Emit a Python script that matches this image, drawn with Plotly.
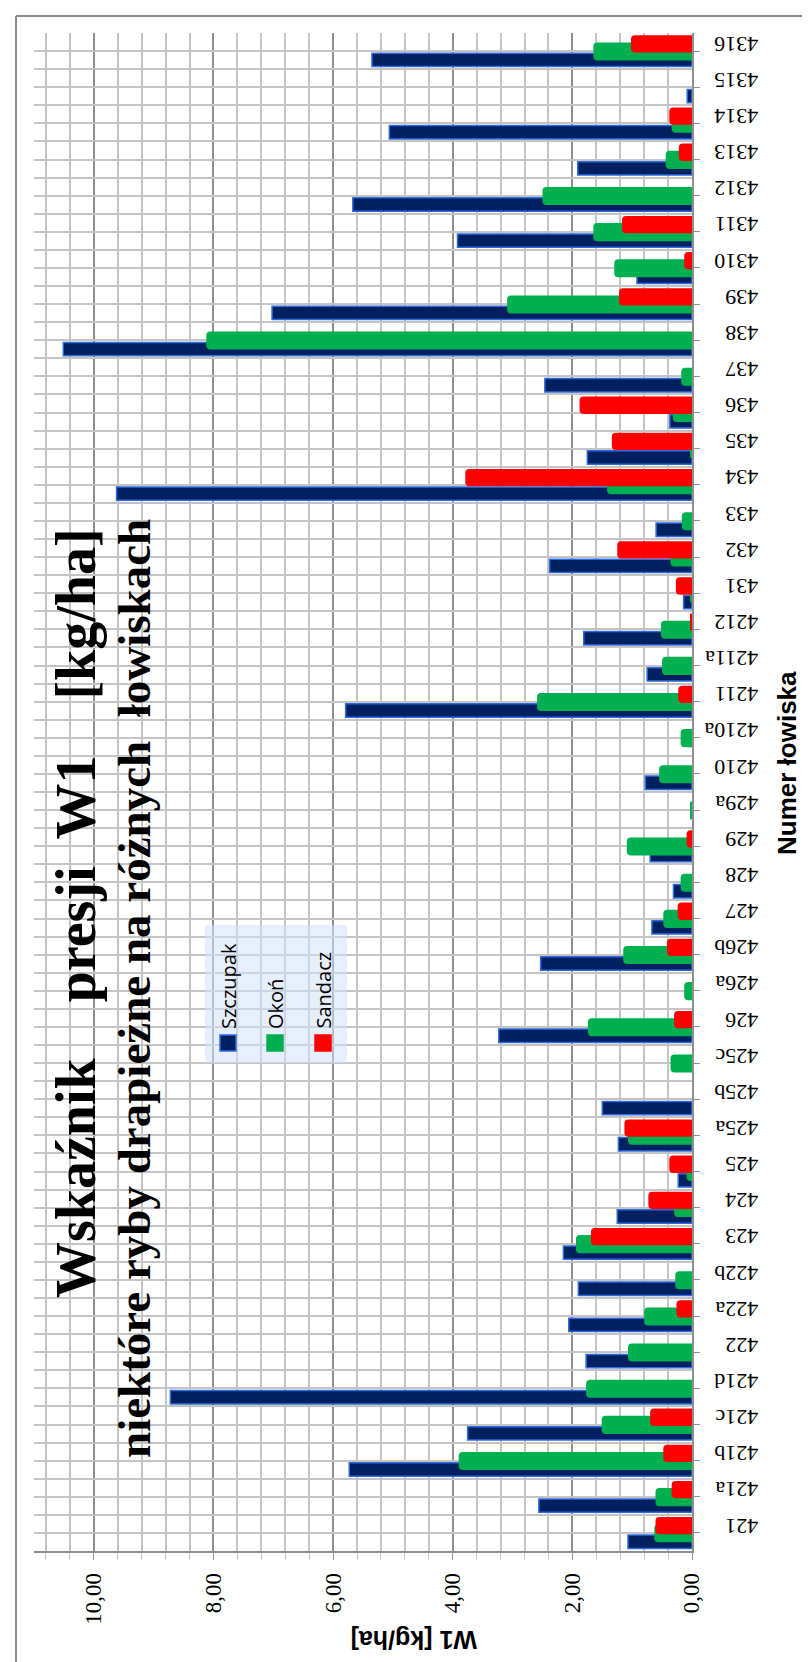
import plotly.graph_objects as go

categories = ["421", "421a", "421b", "421c", "421d", "422", "422a", "422b", "423", "424",
              "425", "425a", "425b", "425c", "426", "426a", "426b", "427", "428", "429",
              "429a", "4210", "4210a", "4211", "4211a", "4212", "431", "432", "433", "434",
              "435", "436", "437", "438", "439", "4310", "4311", "4312", "4313", "4314",
              "4315", "4316"]

szczupak = [1.07, 2.56, 5.73, 3.75, 8.72, 1.77, 2.06, 1.90, 2.15, 1.25,
            0.23, 1.23, 1.50, None, 3.23, None, 2.53, 0.67, 0.31, 0.70,
            None, 0.78, None, 5.79, 0.75, 1.81, 0.14, 2.38, 0.60, 9.62,
            1.75, 0.37, 2.46, 10.51, 7.02, 0.92, 3.92, 5.67, 1.91, 5.06,
            0.08, 5.35]

okon = [0.63, 0.61, 3.90, 1.51, 1.77, 1.07, 0.80, 0.28, 1.94, 0.30,
        0.09, 1.07, None, 0.36, 1.74, 0.13, 1.15, 0.48, 0.19, 1.09,
        0.03, 0.55, 0.19, 2.59, 0.50, 0.52, 0.03, 0.36, 0.17, 1.42,
        0.03, 0.32, 0.18, 8.12, 3.09, 1.30, 1.65, 2.50, 0.44, 0.34,
        None, 1.65]

sandacz = [0.61, 0.34, 0.48, 0.70, None, None, 0.26, None, 1.69, 0.73,
           0.38, 1.13, None, None, 0.30, None, 0.42, 0.24, None, 0.09,
           None, None, None, 0.23, None, 0.03, 0.27, 1.25, None, 3.79,
           1.34, 1.88, None, None, 1.22, 0.13, 1.17, None, 0.22, 0.38,
           None, 1.02]

series_names = ["Szczupak", "Okoń", "Sandacz"]
NB = "\u00a0"
title_line1 = "Wskaźnik" + NB * 3 + " presji" + NB + " W1" + NB * 3 + " [kg/ha]"
title_line2 = "niektóre ryby drapieżne na różnych" + NB + " łowiskach"

NAVY = "#00205F"
NAVY_EDGE = "#2F6BE0"
GREEN = "#00B050"
RED = "#FF0000"
GRID = "#C4C4C4"
GRID_MAJOR = "#8E8E8E"

W_PX, H_PX = 810, 1662
L, T, PW, PH = 26, 25, 658, 1518


def px(xp):
    return (xp - L) / PW


def py(yp):
    return (T + PH - yp) / PH


fig = go.Figure()

fig.add_trace(go.Bar(
    y=categories, x=szczupak, orientation="h", name=series_names[0],
    offset=-0.43, width=0.37,
    marker=dict(color=NAVY, line=dict(color=NAVY_EDGE, width=1.5)),
    showlegend=False))
fig.add_trace(go.Bar(
    y=categories, x=okon, orientation="h", name=series_names[1],
    offset=-0.26, width=0.50,
    marker=dict(color=GREEN, line=dict(width=0), cornerradius=4),
    showlegend=False))
fig.add_trace(go.Bar(
    y=categories, x=sandacz, orientation="h", name=series_names[2],
    offset=-0.04, width=0.48,
    marker=dict(color=RED, line=dict(width=0), cornerradius=4),
    showlegend=False))

# helper trace for boundary gridlines on the overlaid category axis
fig.add_trace(go.Scatter(y=categories, x=[None] * len(categories), yaxis="y2",
                         mode="markers", showlegend=False, hoverinfo="skip"))

fig.update_layout(
    width=W_PX, height=H_PX, autosize=False,
    margin=dict(l=L, r=W_PX - L - PW, t=T, b=H_PX - T - PH, pad=0),
    paper_bgcolor="white", plot_bgcolor="white",
    barmode="overlay",
    separators=", ",
    showlegend=False,
    xaxis=dict(
        range=[11, 0], tick0=0, dtick=2, tickformat=".2f",
        tickangle=-90, ticks="outside", ticklen=7, tickcolor=GRID_MAJOR,
        tickfont=dict(family="Liberation Serif", size=23, color="black"),
        ticklabelstandoff=4,
        showgrid=True, gridcolor=GRID_MAJOR, gridwidth=1.5,
        minor=dict(dtick=0.4, tick0=0, showgrid=True, gridcolor=GRID, gridwidth=1.5,
                   ticks="outside", ticklen=7, tickcolor=GRID),
        showline=True, linecolor=GRID_MAJOR, linewidth=1.5,
        zeroline=False, fixedrange=True),
    yaxis=dict(
        type="category", categoryorder="array", categoryarray=categories,
        range=[-0.5, len(categories) - 0.5],
        side="right", tickangle=180,
        tickfont=dict(family="Liberation Serif", size=22, color="black"),
        ticks="outside", ticklen=6, tickcolor=GRID_MAJOR,
        ticklabelstandoff=54,
        showgrid=True, gridcolor=GRID, gridwidth=1.5,
        showline=True, linecolor=GRID_MAJOR, linewidth=1.5),
    yaxis2=dict(
        type="category", categoryorder="array", categoryarray=categories,
        range=[-0.5, len(categories) - 0.5],
        overlaying="y", side="right", tickson="boundaries",
        showticklabels=False, ticks="",
        showgrid=True, gridcolor=GRID, gridwidth=1.5, showline=False),
)

shapes = []
# outer chart frame (top and left)
shapes.append(dict(type="line", xref="paper", yref="paper",
                   x0=px(8), x1=px(812), y0=py(8), y1=py(8),
                   line=dict(color="#8A8A8A", width=2)))
shapes.append(dict(type="line", xref="paper", yref="paper",
                   x0=px(8), x1=px(8), y0=py(8), y1=py(1664),
                   line=dict(color="#8A8A8A", width=2)))
# legend box
shapes.append(dict(type="rect", xref="paper", yref="paper",
                   x0=px(197), x1=px(339), y0=py(1055), y1=py(917),
                   fillcolor="rgba(214,226,250,0.55)", line=dict(width=0), layer="above"))
legend_cols = [220, 267, 315]
legend_fill = [NAVY, GREEN, RED]
legend_edge = [NAVY_EDGE, GREEN, RED]
for cx, fc, ec in zip(legend_cols, legend_fill, legend_edge):
    shapes.append(dict(type="rect", xref="paper", yref="paper",
                       x0=px(cx - 8), x1=px(cx + 8), y0=py(1043), y1=py(1027),
                       fillcolor=fc, line=dict(color=ec, width=1.5), layer="above"))
fig.update_layout(shapes=shapes)

annotations = []
for cx, name in zip(legend_cols, series_names):
    annotations.append(dict(text=name, xref="paper", yref="paper",
                            x=px(cx), y=py(1023), xanchor="center", yanchor="bottom",
                            textangle=-90, showarrow=False,
                            font=dict(family="Open Sans", size=20, color="black")))
annotations.append(dict(text="<b>" + title_line1 + "</b>", xref="paper", yref="paper",
                        x=px(68), y=py(905), xanchor="center", yanchor="middle",
                        textangle=-90, showarrow=False,
                        font=dict(family="Liberation Serif", size=56, color="black")))
annotations.append(dict(text="<b>" + title_line2 + "</b>", xref="paper", yref="paper",
                        x=px(126), y=py(981), xanchor="center", yanchor="middle",
                        textangle=-90, showarrow=False,
                        font=dict(family="Liberation Serif", size=47, color="black")))
annotations.append(dict(text="<b>W1 [kg/ha]</b>", xref="paper", yref="paper",
                        x=px(406), y=py(1632), xanchor="center", yanchor="middle",
                        textangle=180, showarrow=False,
                        font=dict(family="Liberation Sans", size=25, color="black")))
annotations.append(dict(text="<b>Numer łowiska</b>", xref="paper", yref="paper",
                        x=px(779), y=py(755), xanchor="center", yanchor="middle",
                        textangle=-90, showarrow=False,
                        font=dict(family="Liberation Sans", size=26, color="black")))
fig.update_layout(annotations=annotations)

fig.write_html("out.html")
